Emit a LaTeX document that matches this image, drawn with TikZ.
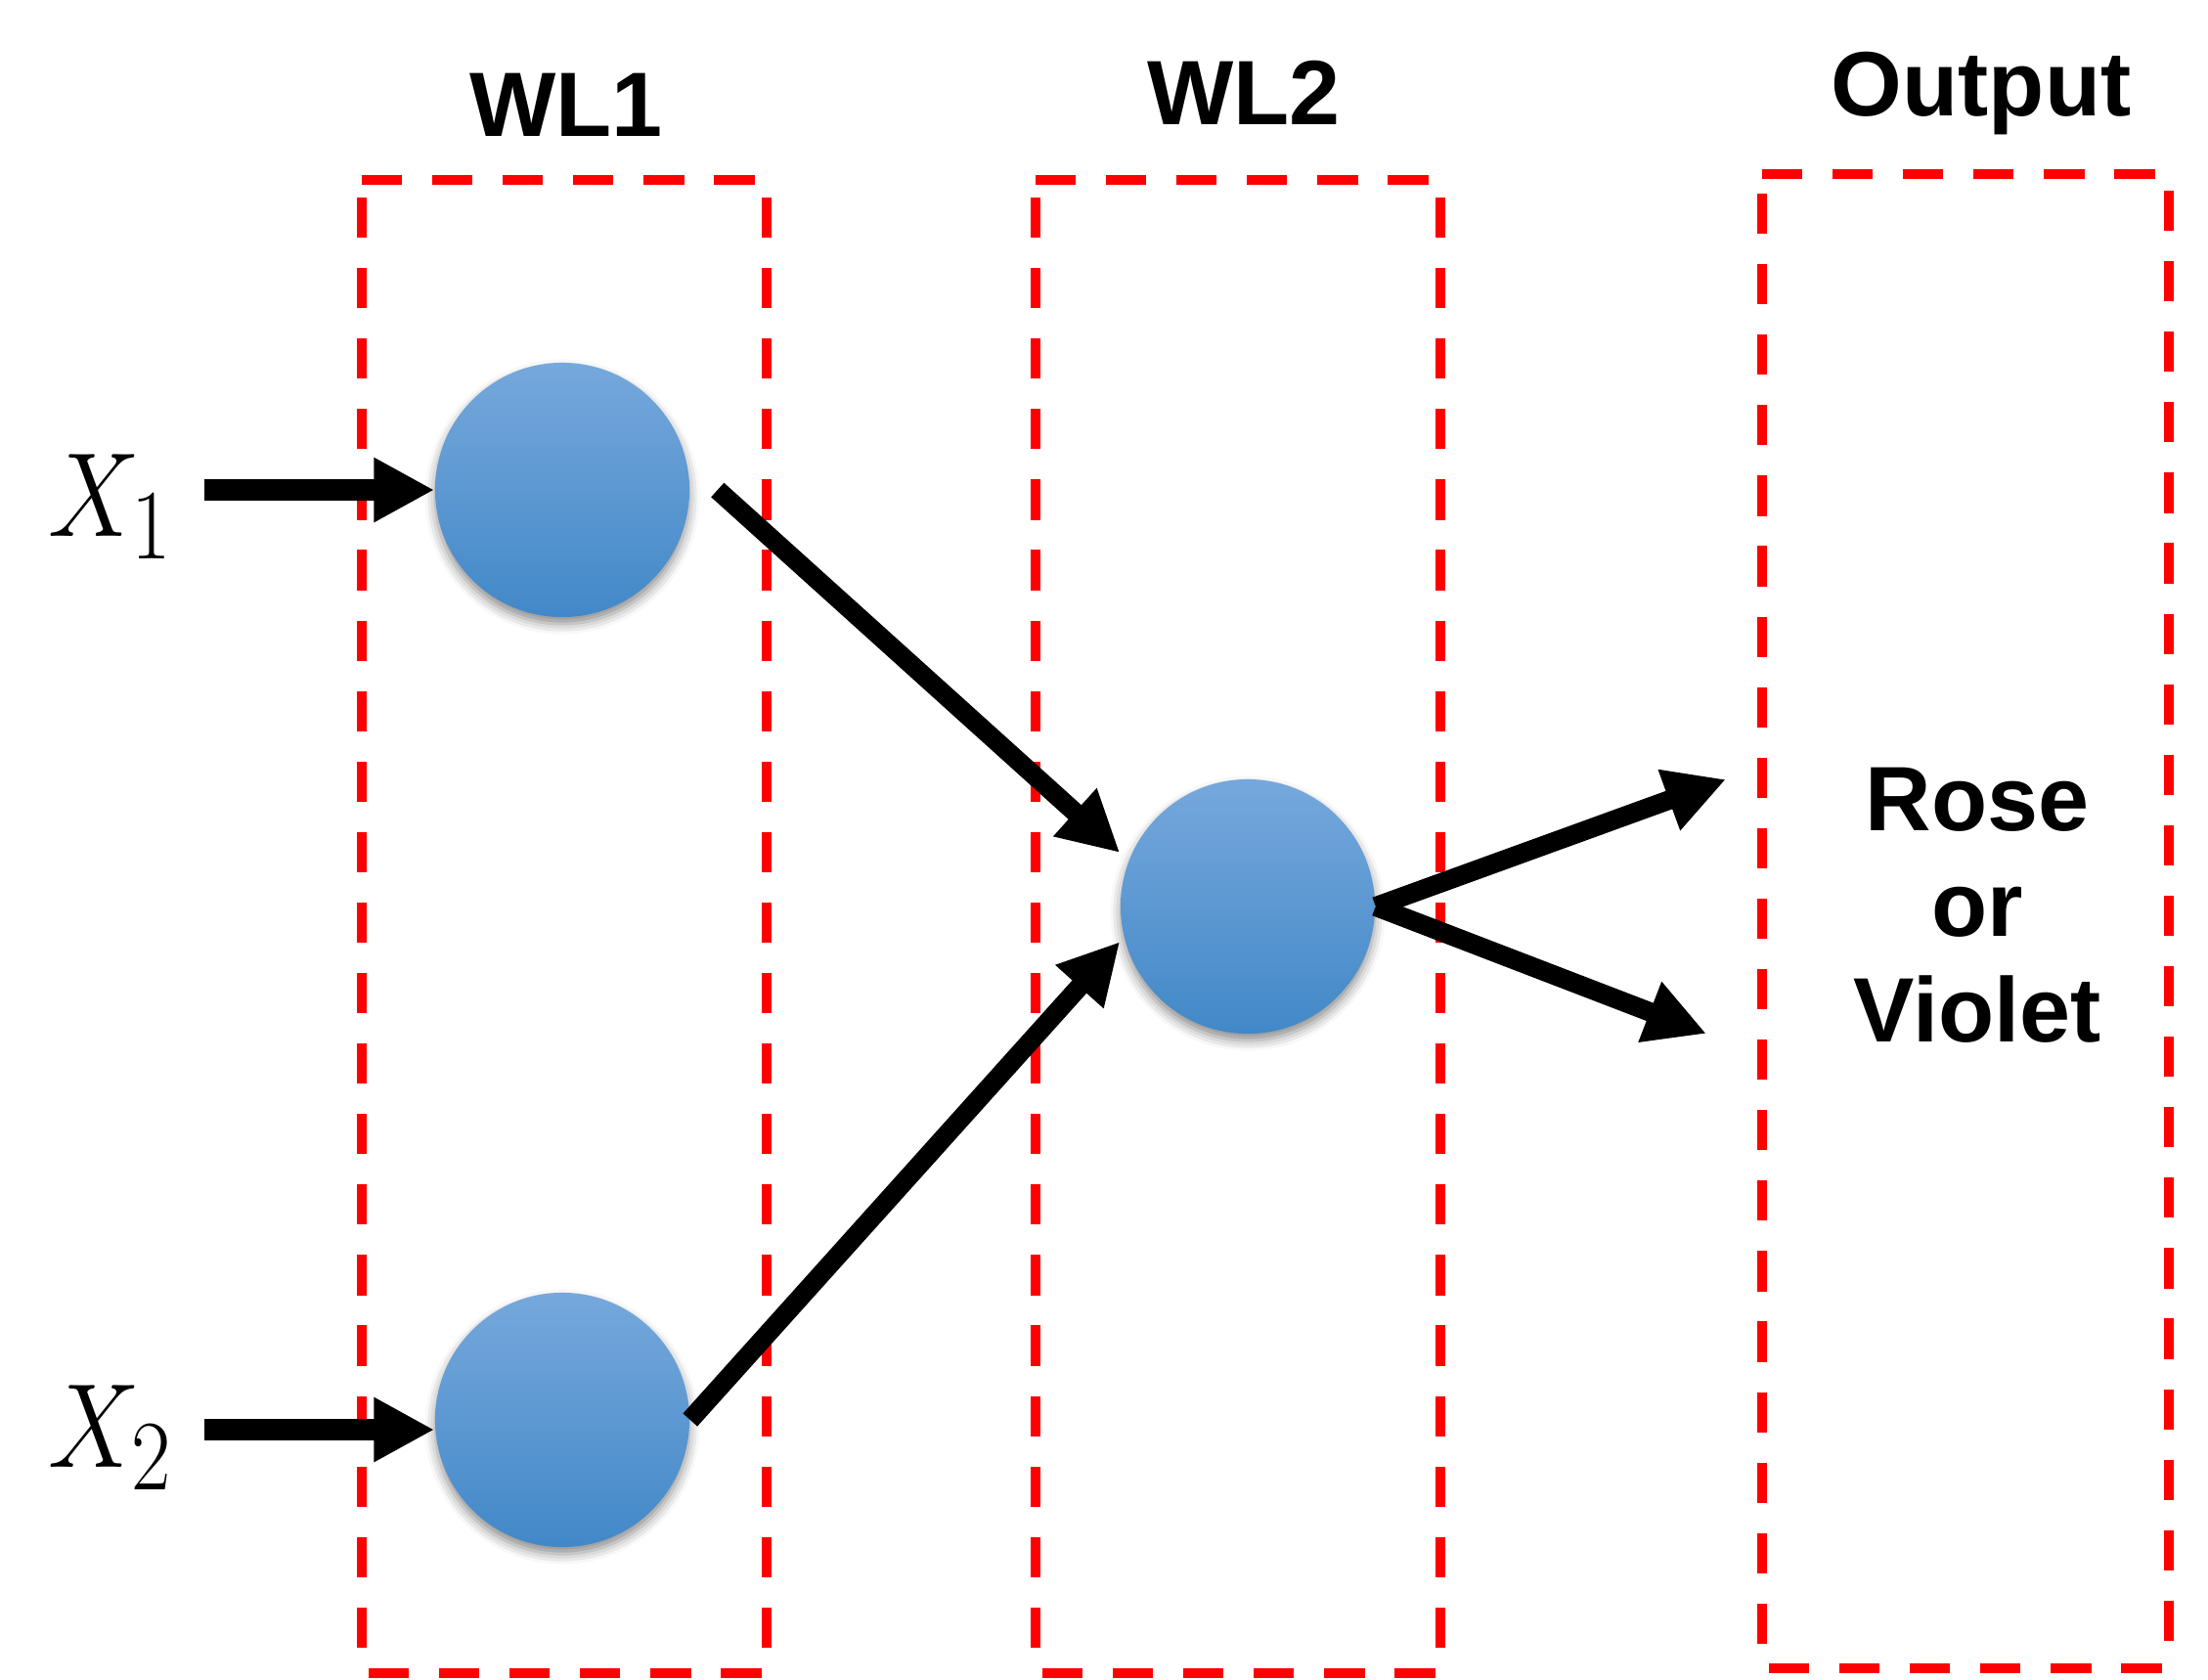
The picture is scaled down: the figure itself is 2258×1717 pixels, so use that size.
\documentclass[tikz,border=0pt]{standalone}
\usepackage{fontspec}
\setsansfont{Liberation Sans}
\usetikzlibrary{arrows.meta,calc,shadows.blur}
\definecolor{boxred}{RGB}{255,0,0}
\definecolor{ntop}{RGB}{118,168,220}
\definecolor{nbot}{RGB}{66,136,200}
\tikzset{
  redline/.style={draw=boxred, line width=2.8pt, dash pattern=on 11.7pt off 8.8pt},
  neuron/.style={circle, minimum size=2.6cm, inner sep=0pt, draw=none,
    top color=ntop, bottom color=nbot,
    blur shadow={shadow xshift=0pt, shadow yshift=-2pt, shadow blur radius=3pt, shadow opacity=45}},
  inarrow/.style={line width=6pt, -{Triangle[length=17.6pt,width=17.6pt]}},
  diagarrow/.style={line width=5.6pt, -{Triangle[length=17.6pt,width=17.6pt]}},
  title/.style={font=\sffamily\bfseries\fontsize{26.6}{30.7}\selectfont, inner sep=0pt, anchor=base},
  xlabel/.style={font=\fontsize{24.88}{30}\selectfont, inner sep=0pt, anchor=base, scale=1.4, xscale=0.86}
}
\begin{document}
\begin{tikzpicture}[x=0.01cm,y=-0.01cm]
\useasboundingbox (0,0) rectangle (2258,1717);
% WL1 box
\draw[redline] (370,184) -- (784,184);
\draw[redline] (370,202) -- (370,1711);
\draw[redline] (784,202) -- (784,1711);
\draw[redline] (377,1711) -- (784,1711);
% WL2 box
\draw[redline] (1059,184) -- (1473,184);
\draw[redline] (1059,202) -- (1059,1711);
\draw[redline] (1473,202) -- (1473,1711);
\draw[redline] (1066,1711) -- (1473,1711);
% Output box
\draw[redline] (1802,178) -- (2218,178);
\draw[redline] (1802,198) -- (1802,1706);
\draw[redline] (2218,195) -- (2218,1706);
\draw[redline] (1809,1706) -- (2218,1706);
% titles
\node[title] (wl1) at (579,139) {WL1};
\node[title] (wl2) at (1272,127) {WL2};
\node[title] (outt) at (2026,118) {Output};
\node[font=\sffamily\bfseries\fontsize{26.6}{30.7}\selectfont, align=center, inner sep=0pt] (res) at (2022,926) {Rose\\or\\Violet};
% neurons
\node[neuron] (t1) at (575,501) {};
\node[neuron] (b1) at (575,1452) {};
\node[neuron] (c) at (1276,927) {};
% inputs
\node[xlabel] (x1) at (113,548) {$X_1$};
\node[xlabel] (x2) at (113,1500) {$X_2$};
\coordinate (x1s) at (209,501);
\coordinate (x2s) at (209,1462);
\draw[inarrow] (x1s) -- (t1.west);
\draw[inarrow] (x2s) -- (x2s -| b1.west);
% hidden connections
\draw[diagarrow] ($(t1.east)+(28,0)$) -- ($(c.west)+(0,-55)$);
\draw[diagarrow] (b1.east) -- ($(c.west)+(0,36)$);
% outputs
\coordinate (o1) at (1765,797);
\coordinate (o2) at (1745,1057);
\draw[diagarrow] (c.east) -- (o1);
\draw[diagarrow] (c.east) -- (o2);
\end{tikzpicture}
\end{document}
